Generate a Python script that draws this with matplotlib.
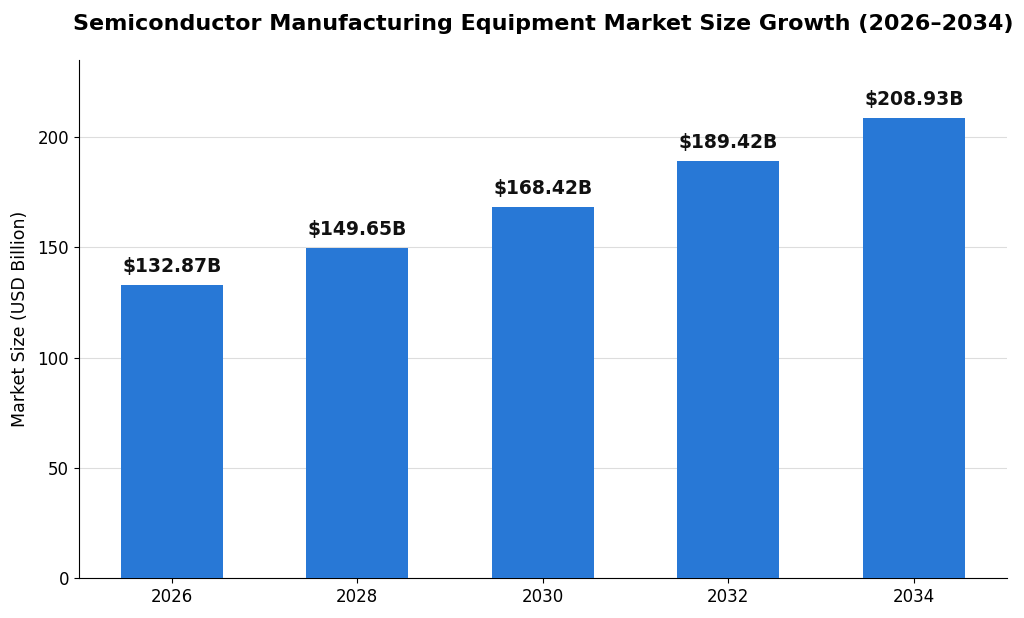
import matplotlib
matplotlib.use("Agg")
import matplotlib.pyplot as plt

years = ["2026", "2028", "2030", "2032", "2034"]
market_size = [132.87, 149.65, 168.42, 189.42, 208.93]
value_labels = ["$132.87B", "$149.65B", "$168.42B", "$189.42B", "$208.93B"]

fig = plt.figure(figsize=(10.24, 6.18), dpi=100)
ax = fig.add_axes([0.0771, 0.0647, 0.906, 0.838])

x = list(range(len(years)))
bars = ax.bar(x, market_size, width=0.55, color="#2878d6", zorder=3)

for bar, label in zip(bars, value_labels):
    ax.text(bar.get_x() + bar.get_width() / 2, bar.get_height() + 4, label,
            ha="center", va="bottom", fontsize=13.5, fontweight="bold", color="#111111")

ax.set_xticks(x)
ax.set_xticklabels(years, fontsize=12)
ax.tick_params(axis="y", labelsize=12)
ax.set_xlim(-0.5, 4.5)
ax.set_ylim(0, 235)
ax.set_yticks([0, 50, 100, 150, 200])
ax.set_ylabel("Market Size (USD Billion)", fontsize=12.5, labelpad=6)
ax.yaxis.grid(True, color="#dddddd", linewidth=0.8, zorder=0)
ax.spines["top"].set_visible(False)
ax.spines["right"].set_visible(False)
ax.set_title("Semiconductor Manufacturing Equipment Market Size Growth (2026\u20132034)",
             fontsize=16, fontweight="bold", pad=22)

fig.savefig("out.png", dpi=100)
